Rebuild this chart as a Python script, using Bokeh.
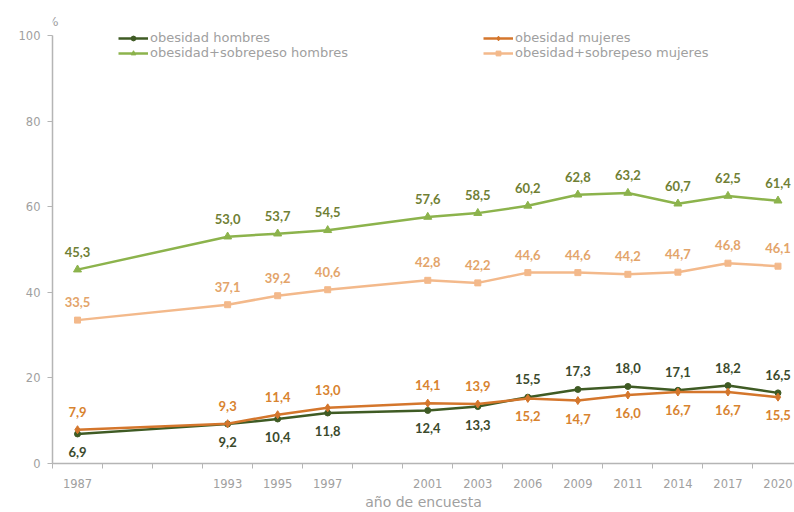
from bokeh.plotting import figure
from bokeh.models import (ColumnDataSource, Range1d, FixedTicker, LabelSet, Label,
                          Legend, LegendItem)
from bokeh.core.properties import value
from bokeh.embed import file_html
from bokeh.resources import INLINE

# ---- data ----
slots = ["1987", "", "", "1993", "1995", "1997", "", "2001", "2003", "2006",
         "2009", "2011", "2014", "2017", "2020"]
years = ["1987", "1993", "1995", "1997", "2001", "2003", "2006", "2009",
         "2011", "2014", "2017", "2020"]
ob_hombres = [6.9, 9.2, 10.4, 11.8, 12.4, 13.3, 15.5, 17.3, 18.0, 17.1, 18.2, 16.5]
ob_mujeres = [7.9, 9.3, 11.4, 13.0, 14.1, 13.9, 15.2, 14.7, 16.0, 16.7, 16.7, 15.5]
obsob_hombres = [45.3, 53.0, 53.7, 54.5, 57.6, 58.5, 60.2, 62.8, 63.2, 60.7, 62.5, 61.4]
obsob_mujeres = [33.5, 37.1, 39.2, 40.6, 42.8, 42.2, 44.6, 44.6, 44.2, 44.7, 46.8, 46.1]
y_ticks = [0, 20, 40, 60, 80, 100]

FONT = "DejaVu Sans"
LFONT = "Lato"
GRAY = "#a0a0a0"

xs = [slots.index(y) + 0.5 for y in years]

p = figure(width=794, height=512, output_backend="svg", toolbar_location=None,
           x_range=Range1d(0, 14.83), y_range=Range1d(0, 105.84),
           min_border_left=52, min_border_right=0, min_border_top=10,
           min_border_bottom=49, outline_line_color=None,
           background_fill_color="white", border_fill_color="white")
p.grid.visible = False

# axes
xa = p.xaxis[0]
xa.ticker = FixedTicker(ticks=xs, minor_ticks=list(range(len(slots) + 1)))
xa.major_label_overrides = {x: y for x, y in zip(xs, years)}
xa.major_tick_line_color = None
xa.major_tick_out = 0
xa.major_tick_in = 0
xa.minor_tick_line_color = "#b5b5b5"
xa.minor_tick_out = 5
xa.minor_tick_in = 0
xa.axis_line_color = "#b5b5b5"
xa.axis_line_width = 1.5
xa.major_label_standoff = 10
xa.major_label_text_color = GRAY
xa.major_label_text_font = FONT
xa.major_label_text_font_size = "11.5px"
xa.axis_label = "año de encuesta"
xa.axis_label_standoff = 3
xa.axis_label_text_font = FONT
xa.axis_label_text_font_size = "14px"
xa.axis_label_text_font_style = "normal"
xa.axis_label_text_color = GRAY

ya = p.yaxis[0]
ya.ticker = FixedTicker(ticks=y_ticks)
ya.bounds = (0, 100)
ya.minor_tick_line_color = None
ya.major_tick_line_color = "#b5b5b5"
ya.major_tick_out = 5
ya.major_tick_in = 0
ya.axis_line_color = "#b5b5b5"
ya.axis_line_width = 1.5
ya.major_label_standoff = 7
ya.major_label_text_color = GRAY
ya.major_label_text_font = FONT
ya.major_label_text_font_size = "11.5px"

series = [
    ("obesidad hombres", ob_hombres, "#3f5b24", "circle", 6, "#3b4a2c"),
    ("obesidad mujeres", ob_mujeres, "#d4762c", "diamond", 8, "#d8832f"),
    ("obesidad+sobrepeso hombres", obsob_hombres, "#8cb34c", "triangle", 8, "#707f35"),
    ("obesidad+sobrepeso mujeres", obsob_mujeres, "#f3b98b", "square", 6, "#e3a46a"),
]

items = {}
for name, vals, color, marker, msize, lcolor in series:
    src = ColumnDataSource(dict(x=xs, y=vals))
    ln = p.line("x", "y", source=src, line_color=color, line_width=2.5)
    mk = p.scatter("x", "y", source=src, marker=marker, size=msize,
                   fill_color=color, line_color=color)
    items[name] = [ln, mk]

    # label placement: above or below the point
    if name == "obesidad hombres":
        below = [int(y) < 2006 for y in years]
    elif name == "obesidad mujeres":
        below = [int(y) >= 2006 for y in years]
    else:
        below = [False] * len(years)
    for is_below in (False, True):
        idx = [i for i, b in enumerate(below) if b == is_below]
        if not idx:
            continue
        s2 = ColumnDataSource(dict(x=[xs[i] for i in idx], y=[vals[i] for i in idx],
                                   lab=[f"{vals[i]:.1f}".replace(".", ",") for i in idx]))
        ls = LabelSet(x="x", y="y", text="lab", source=s2,
                      y_offset=-18 if is_below else 18,
                      text_align="center", text_baseline="middle",
                      text_font=value(LFONT), text_font_style="bold",
                      text_font_size="13px", text_color=lcolor)
        p.add_layout(ls)

legend_kw = dict(padding=0, margin=0, spacing=0, border_line_color=None,
                 background_fill_alpha=0, label_text_font=FONT,
                 label_text_font_size="13px", label_text_color=GRAY,
                 glyph_width=30, glyph_height=12, label_height=12,
                 label_standoff=2, orientation="vertical")
legend_pos = {
    "obesidad hombres": (66, 418),
    "obesidad+sobrepeso hombres": (66, 403),
    "obesidad mujeres": (431, 418),
    "obesidad+sobrepeso mujeres": (431, 403),
}
for name, loc in legend_pos.items():
    leg = Legend(items=[LegendItem(label=name, renderers=items[name])],
                 location=loc, **legend_kw)
    p.add_layout(leg, "center")

p.add_layout(Label(x=0, y=100, text="%", y_offset=14, text_align="center",
                   text_baseline="middle", text_font=FONT, text_font_size="13px",
                   text_color=GRAY))

open("out.html", "w").write(file_html(p, INLINE))
